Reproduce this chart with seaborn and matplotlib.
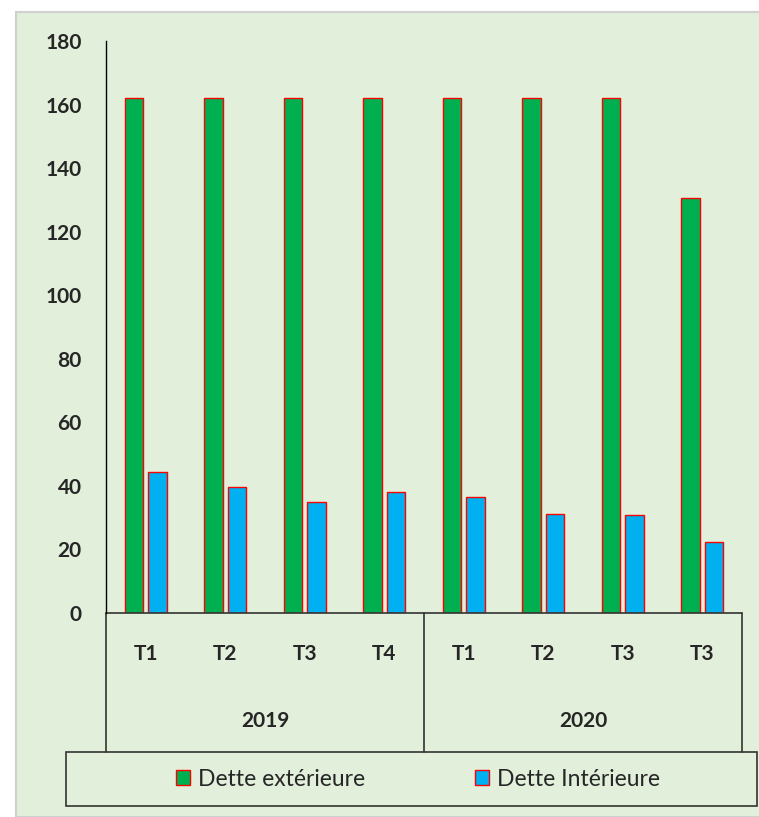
import matplotlib.pyplot as plt
import matplotlib.patches as mpatches
from matplotlib.lines import Line2D
import pandas as pd
import seaborn as sns

years = ['2019', '2019', '2019', '2019', '2020', '2020', '2020', '2020']
quarters = ['T1', 'T2', 'T3', 'T4', 'T1', 'T2', 'T3', 'T3']
dette_ext = [162, 162, 162, 162, 162, 162, 162, 130.5]
dette_int = [44.5, 39.6, 34.9, 38.1, 36.5, 31.2, 30.8, 22.3]
series = ['Dette extérieure', 'Dette Intérieure']
colors = ['#00B050', '#00B0F0']

W, H = 759, 817
bg = '#E2EFDA'
fs = 15

keys = [f'{y} {q} {i}' for i, (y, q) in enumerate(zip(years, quarters))]
df = pd.DataFrame({
    'periode': keys * 2,
    'serie': [series[0]] * len(keys) + [series[1]] * len(keys),
    'valeur': dette_ext + dette_int,
})

sns.set_style('white')
plt.rcParams['font.family'] = ['Lato', 'DejaVu Sans']

fig = plt.figure(figsize=(W / 100, H / 100), dpi=100)
fig.patch.set_facecolor('white')
# light green panel with grey edge
fig.patches.append(mpatches.Rectangle((16 / W, 0), 1, 1 - 12 / H, transform=fig.transFigure,
                                      facecolor=bg, edgecolor='#D0D0D0', linewidth=1.5, zorder=-10))

ax = fig.add_axes([106 / W, 1 - 613 / H, (742 - 106) / W, (613 - 41) / H])
ax.set_facecolor('none')

sns.barplot(data=df, x='periode', y='valeur', hue='serie', palette=colors, saturation=1,
            width=0.59, gap=0.23, edgecolor='red', linewidth=1.0, ax=ax,
            legend=False)

ax.set_xlim(-0.5, len(keys) - 0.5)
ax.set_ylim(0, 180)
ax.set_yticks(range(0, 181, 20))
ax.tick_params(axis='y', length=0, pad=17.5, labelsize=fs)
for lbl in ax.get_yticklabels():
    lbl.set_fontweight('bold')
ax.set_xticks(range(len(keys)))
ax.set_xticklabels(quarters, fontsize=fs, fontweight='bold')
ax.tick_params(axis='x', length=0, pad=22)
ax.set_xlabel('')
ax.set_ylabel('')

for s in ['top', 'right', 'bottom']:
    ax.spines[s].set_visible(False)
ax.spines['left'].set_color('black')
ax.spines['left'].set_linewidth(1.0)

# category box under the axis
trans = ax.get_xaxis_transform()
box_bottom = -(752 - 613) / (613 - 41)
line_kw = dict(color='#333333', linewidth=1.2, transform=trans, clip_on=False)
ax.add_line(Line2D([-0.5, 7.5], [0, 0], **line_kw))
for xv in [-0.5, 3.5, 7.5]:
    ax.add_line(Line2D([xv, xv], [0, box_bottom], **line_kw))
year_y = -(721 - 613) / (613 - 41)
ax.text(1.5, year_y, '2019', transform=trans, ha='center', va='center',
        fontsize=fs, fontweight='bold')
ax.text(5.5, year_y, '2020', transform=trans, ha='center', va='center',
        fontsize=fs, fontweight='bold')

# legend box
fig.patches.append(mpatches.Rectangle((66 / W, 1 - 806 / H), (757 - 66) / W, (806 - 752) / H,
                                      transform=fig.transFigure, facecolor='none',
                                      edgecolor='#333333', linewidth=1.2))
handles = [mpatches.Patch(facecolor=c, edgecolor='red', linewidth=1.0) for c in colors]
fig.legend(handles, series, loc='center', bbox_to_anchor=(418 / W, 1 - 779 / H), ncol=2,
           frameon=False, fontsize=16.5, handlelength=0.6, handleheight=0.6,
           handletextpad=0.35, columnspacing=4.8)

fig.savefig('out.png', dpi=100)
